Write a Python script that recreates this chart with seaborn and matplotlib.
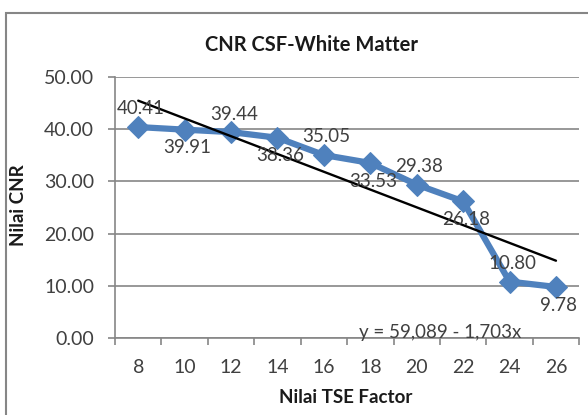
import numpy as np
import pandas as pd
import matplotlib
matplotlib.use("Agg")
import matplotlib.pyplot as plt
import seaborn as sns
from matplotlib.patches import Rectangle

# data
tse_factor = [8, 10, 12, 14, 16, 18, 20, 22, 24, 26]
cnr_values = [40.41, 39.91, 39.44, 38.36, 35.05, 33.53, 29.38, 26.18, 10.80, 9.78]
trend_intercept = 59.089
trend_slope = -1.703
y_ticks = [0, 10, 20, 30, 40, 50]

sns.set_theme(style="white")
plt.rcParams['font.family'] = ['Lato', 'DejaVu Sans']

df = pd.DataFrame({'tse': tse_factor, 'cnr': cnr_values})
trend_x = np.array([tse_factor[0], tse_factor[-1]])
df_trend = pd.DataFrame({'tse': trend_x, 'cnr': trend_intercept + trend_slope * trend_x})

fig = plt.figure(figsize=(5.88, 4.15), dpi=100)
ax = fig.add_axes([0.1956, 0.1855, 0.7894, 0.629])

# garis data (biru) + trendline (hitam)
sns.lineplot(data=df, x='tse', y='cnr', ax=ax, color='#4F81BD', linewidth=4.5,
             marker='D', markersize=11, markeredgecolor='#4F81BD', zorder=3)
sns.lineplot(data=df_trend, x='tse', y='cnr', ax=ax, color='black', linewidth=1.7, zorder=4)

# label nilai, selang-seling atas/bawah
for i, (x, y) in enumerate(zip(tse_factor, cnr_values)):
    dy = 13 if i % 2 == 0 else -13
    ax.annotate(f'{y:.2f}', (x, y), xytext=(2, dy), textcoords='offset points',
                ha='center', va='center', fontsize=13.5, color='#404040', zorder=5)

ax.text(21.0, 1.0, 'y = 59,089 - 1,703x', ha='center', va='center',
        fontsize=13.5, color='#404040', zorder=5)

ax.set_xlim(7, 27)
ax.set_ylim(0, 50)
ax.set_yticks(y_ticks)
ax.set_yticklabels([f'{v:.2f}' for v in y_ticks])
ax.set_xticks(tse_factor)
ax.set_xticks(np.arange(7, 28, 2), minor=True)
ax.tick_params(axis='x', which='major', length=0, labelsize=14, pad=15, colors='#404040')
ax.tick_params(axis='x', which='minor', length=5, width=1.2, color='#868686', direction='out')
ax.tick_params(axis='y', length=5, width=1.2, color='#868686', labelsize=14,
               labelcolor='#404040', direction='out', pad=10)
ax.xaxis.set_tick_params(bottom=True, which='both')
ax.yaxis.set_tick_params(left=True)

ax.grid(axis='y', color='#868686', linewidth=1.2)
ax.set_axisbelow(True)
for s in ['top', 'right']:
    ax.spines[s].set_visible(False)
for s in ['left', 'bottom']:
    ax.spines[s].set_color('#868686')
    ax.spines[s].set_linewidth(1.2)

ax.set_xlabel('')
ax.set_ylabel('')
fig.text(0.529, 0.892, 'CNR CSF-White Matter', ha='center', va='center',
         fontsize=14.5, fontweight='bold', color='#1a1a1a')
fig.text(0.588, 0.041, 'Nilai TSE Factor', ha='center', va='center',
         fontsize=13.5, fontweight='bold', color='#1a1a1a')
fig.text(0.031, 0.506, 'Nilai CNR', ha='center', va='center', rotation=90,
         fontsize=13.5, fontweight='bold', color='#1a1a1a')

# bingkai chart
fig.patches.append(Rectangle((6 / 588, -0.05), 1.0, 1.05 - 13 / 415,
                             transform=fig.transFigure, fill=False,
                             edgecolor='#868686', linewidth=1.5))

fig.savefig('out.png', dpi=100)
